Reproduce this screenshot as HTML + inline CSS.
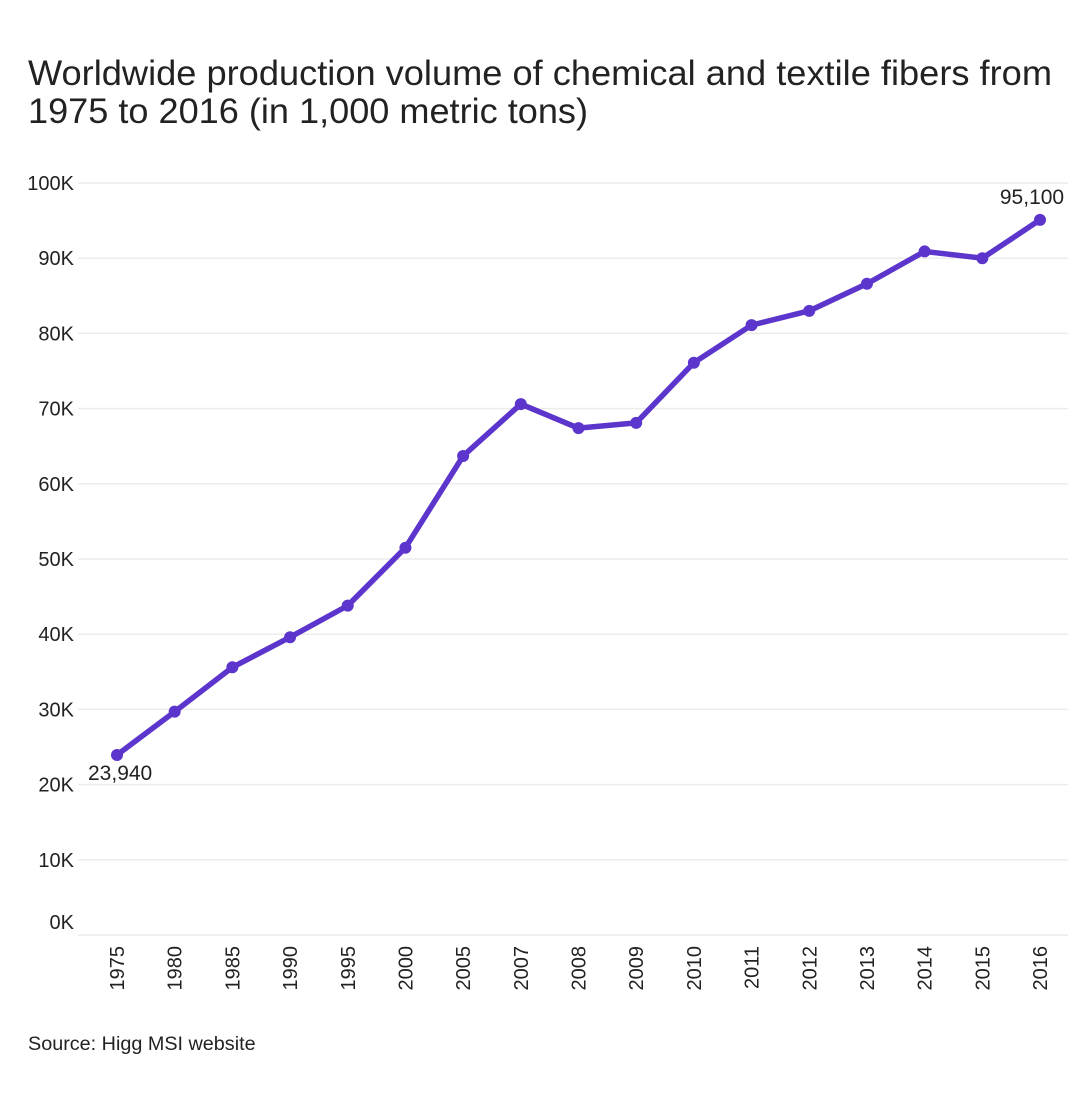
<!DOCTYPE html>
<html><head><meta charset="utf-8"><style>
body{margin:0;background:#fff;font-family:"Liberation Sans",Arial,sans-serif;}
svg text{font-family:"Liberation Sans",Arial,sans-serif;fill:#222;}
</style></head><body>
<svg id="chart" width="1090" height="1090" viewBox="0 0 1090 1090">
<text x="28" y="85" font-size="35" textLength="1024" lengthAdjust="spacingAndGlyphs">Worldwide production volume of chemical and textile fibers from</text>
<text x="28" y="123" font-size="35" textLength="560" lengthAdjust="spacingAndGlyphs">1975 to 2016 (in 1,000 metric tons)</text>
<g id="grid"></g><g id="xaxis"></g><g id="series"></g>
<text x="28" y="1050" font-size="19.8">Source: Higg MSI website</text>
</svg>
<script>
const categories=["1975","1980","1985","1990","1995","2000","2005","2007","2008","2009","2010","2011","2012","2013","2014","2015","2016"];
const values=[23940,29700,35600,39600,43800,51500,63700,70600,67400,68100,76100,81100,83000,86600,90900,90000,95100];
const yTicks=[0,10000,20000,30000,40000,50000,60000,70000,80000,90000,100000];
const tickLabels=["0K","10K","20K","30K","40K","50K","60K","70K","80K","90K","100K"];
const NS="http://www.w3.org/2000/svg";
const x0=117,x1=1040,yTop=183,yBot=935;
function xs(i){return x0+(x1-x0)*i/(categories.length-1);}
function ys(v){return yBot-(yBot-yTop)*v/100000;}
function mk(t,a,p){const e=document.createElementNS(NS,t);for(const k in a)e.setAttribute(k,a[k]);p.appendChild(e);return e;}
const grid=document.getElementById('grid');
yTicks.forEach((v,i)=>{
 const l=mk('line',{x1:78,x2:1068,y1:ys(v),y2:ys(v),stroke:'#ececec','stroke-width':1.5},grid);
 
 
 const ty=v===0?ys(v)-6:ys(v)+7;
 const t=mk('text',{x:74,y:ty,'text-anchor':'end','font-size':20},grid);
 t.textContent=tickLabels[i];
 
 
});
const xa=document.getElementById('xaxis');
categories.forEach((c,i)=>{
 const t=mk('text',{transform:`translate(${xs(i)+7},946) rotate(-90)`,'text-anchor':'end','font-size':20},xa);
 t.textContent=c;
 
 
});
const s=document.getElementById('series');
const line=mk('polyline',{points:values.map((v,i)=>xs(i)+','+ys(v)).join(' '),fill:'none',stroke:'#5c35cc','stroke-width':5.5,'stroke-linejoin':'round'},s);


values.forEach((v,i)=>{
 const c=mk('circle',{cx:xs(i),cy:ys(v),r:6,fill:'#5c35cc'},s);
 
 
});
const n=values.length-1;
const a=mk('text',{x:xs(0)-29,y:ys(values[0])+25,'font-size':21},s);
a.textContent=values[0].toLocaleString('en-US');


const b=mk('text',{x:xs(n)-8,y:ys(values[n])-16,'text-anchor':'middle','font-size':21},s);
b.textContent=values[n].toLocaleString('en-US');


</script>
</body></html>
